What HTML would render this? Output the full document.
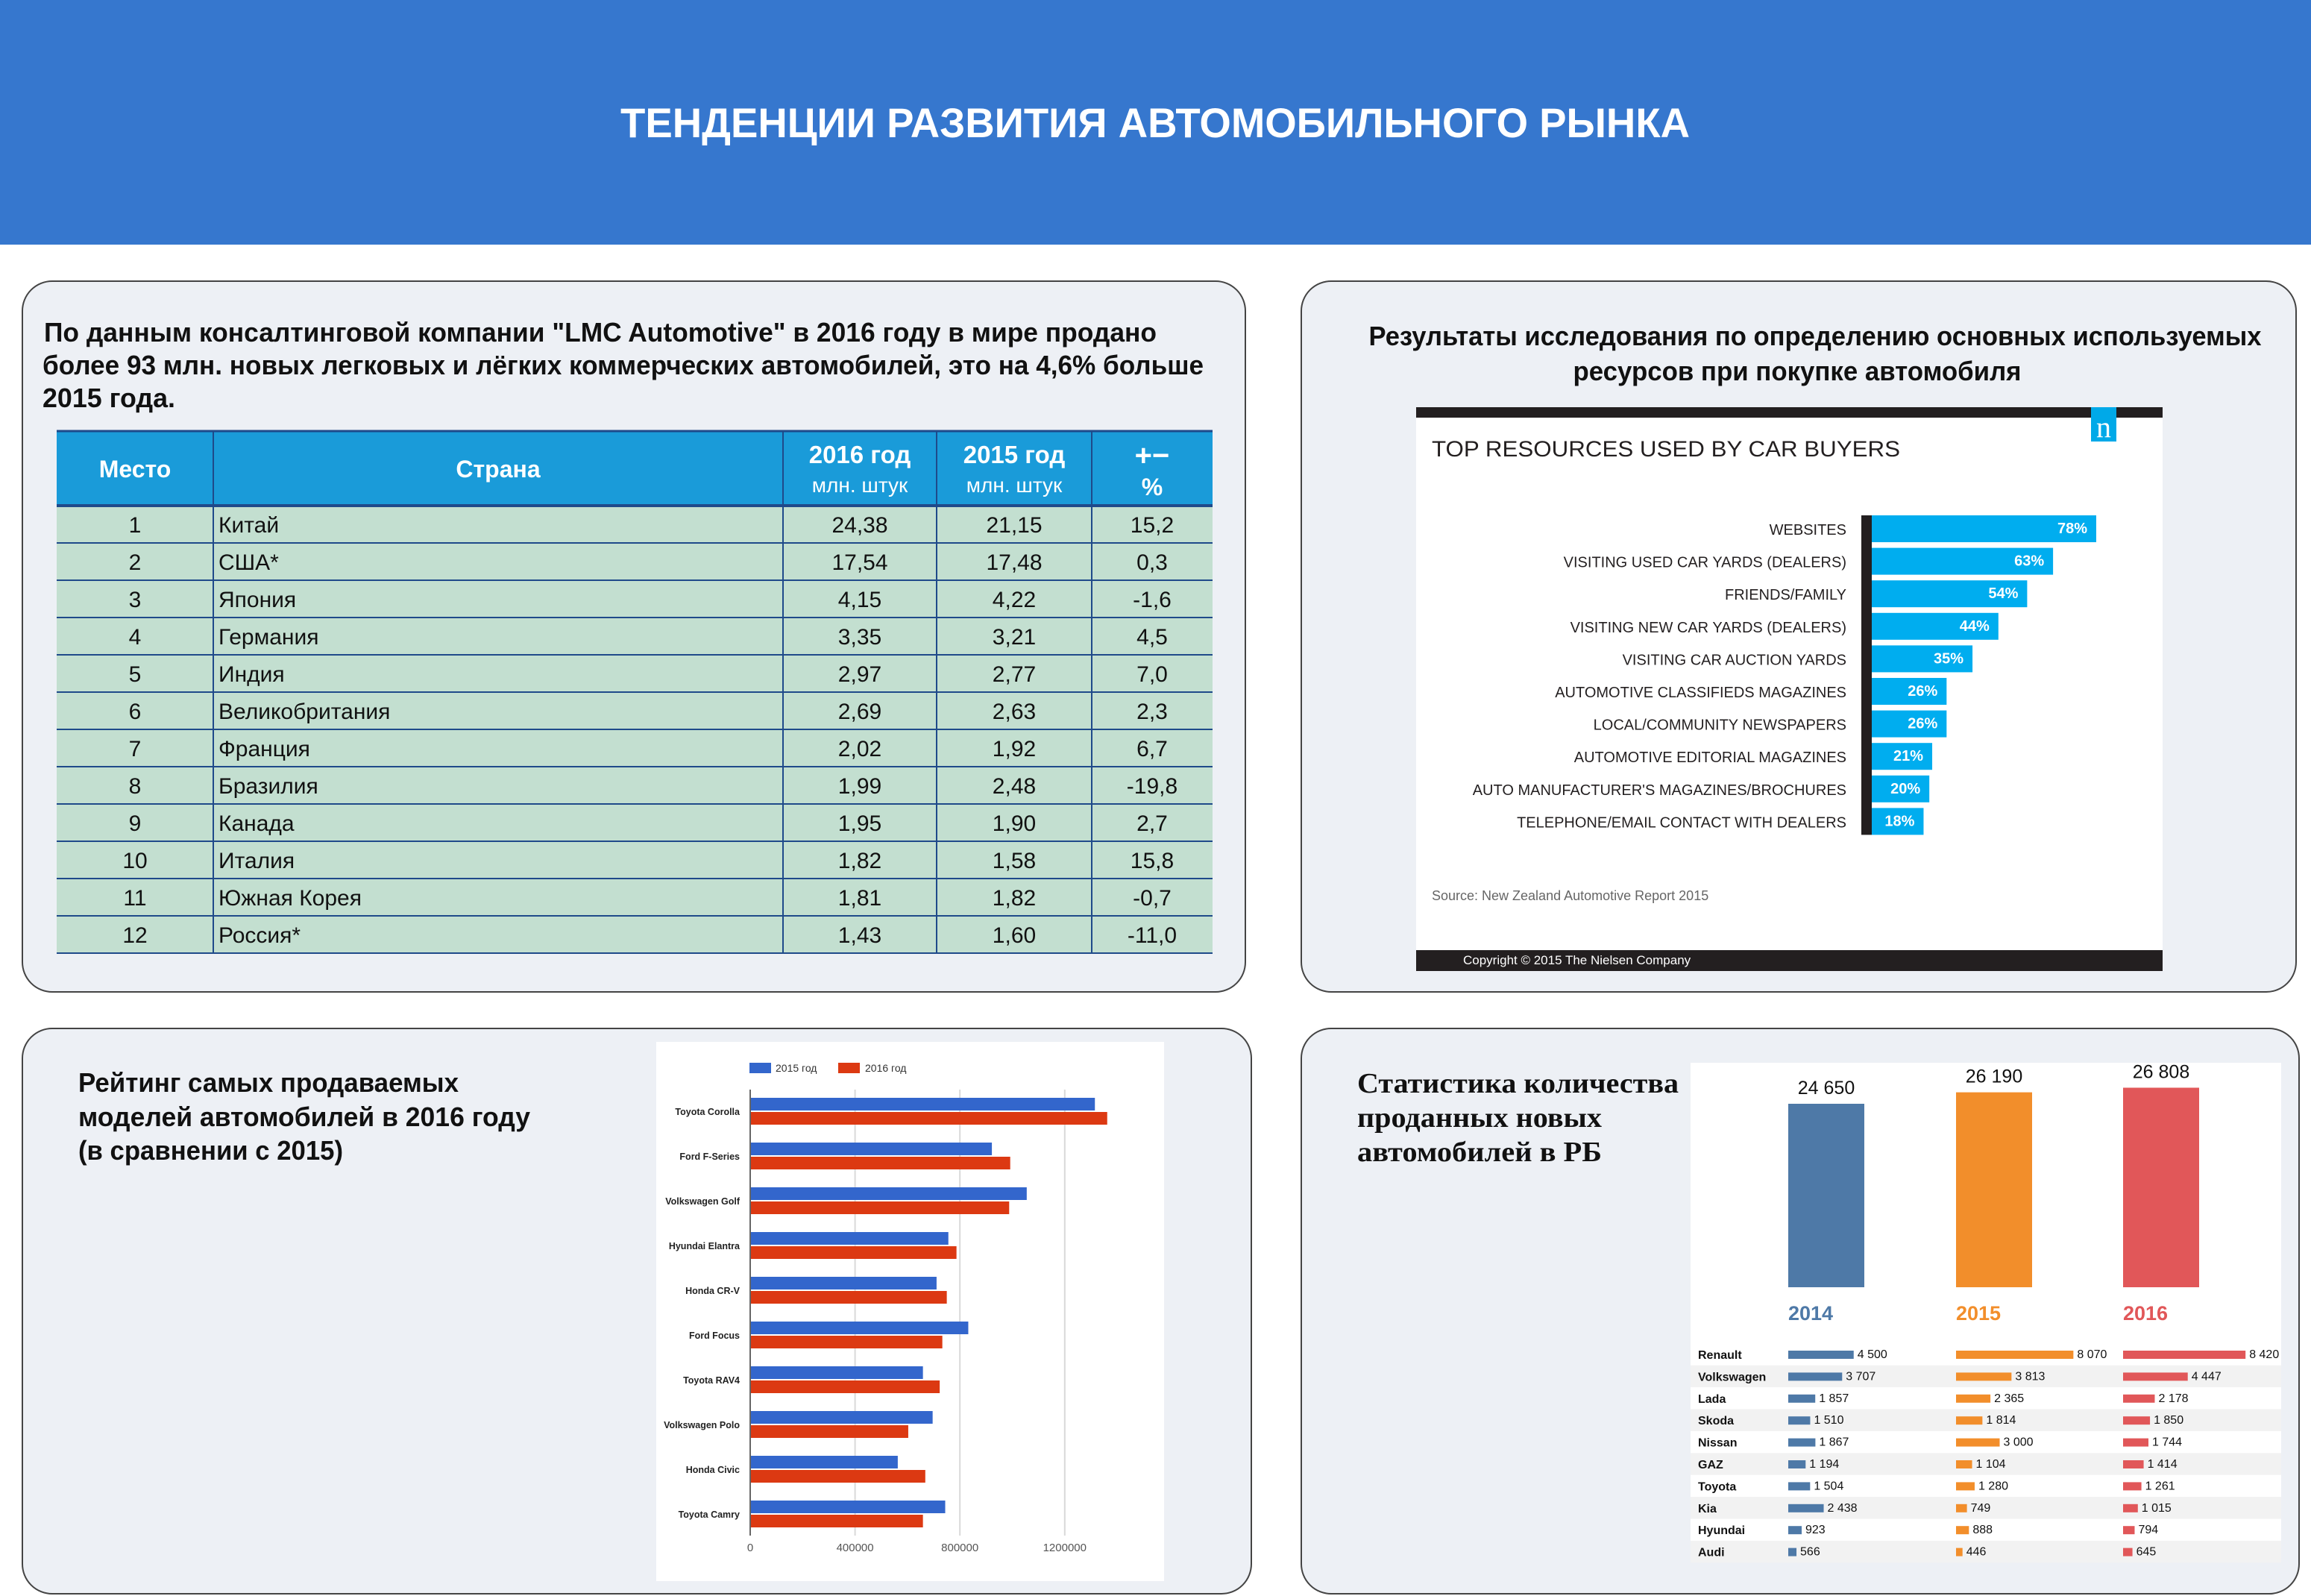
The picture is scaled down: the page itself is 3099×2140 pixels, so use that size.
<!DOCTYPE html>
<html><head><meta charset="utf-8"><style>
html,body{margin:0;padding:0;background:#fff}
svg{display:block}
.nar{font-family:"Liberation Sans Narrow","Liberation Sans",sans-serif}
.san{font-family:"Liberation Sans",sans-serif}
.ser{font-family:"Liberation Serif",serif}
</style></head><body>
<svg id="root" xmlns="http://www.w3.org/2000/svg" width="3099" height="2140" viewBox="0 0 3099 2140">
<rect x="0" y="0" width="3099" height="2140" fill="#ffffff"/>
<rect x="0" y="0" width="3099" height="328" fill="#3677ce"/>
<text x="1549" y="184" text-anchor="middle" class="san" font-weight="bold" font-size="56" fill="#fff" textLength="1434" lengthAdjust="spacingAndGlyphs">ТЕНДЕНЦИИ РАЗВИТИЯ АВТОМОБИЛЬНОГО РЫНКА</text>

<rect x="30" y="377" width="1640" height="953" rx="40" fill="#edf0f5" stroke="#444" stroke-width="2"/>
<rect x="1745" y="377" width="1334" height="953" rx="40" fill="#edf0f5" stroke="#444" stroke-width="2"/>
<rect x="30" y="1379" width="1648" height="758" rx="40" fill="#edf0f5" stroke="#444" stroke-width="2"/>
<rect x="1745" y="1379" width="1338" height="758" rx="40" fill="#edf0f5" stroke="#444" stroke-width="2"/>

<g class="nar" font-weight="bold" font-size="36" fill="#111">
<text x="59" y="458" textLength="1492" lengthAdjust="spacingAndGlyphs">По данным консалтинговой компании "LMC Automotive" в 2016 году в мире продано</text>
<text x="57" y="502" textLength="1557" lengthAdjust="spacingAndGlyphs">более 93 млн. новых легковых и лёгких коммерческих автомобилей, это на 4,6% больше</text>
<text x="57" y="546" textLength="178" lengthAdjust="spacingAndGlyphs">2015 года.</text>
</g>
<g id="table"></g>

<g class="nar" font-weight="bold" font-size="36" fill="#111" text-anchor="middle">
<text x="2434" y="463" textLength="1197" lengthAdjust="spacingAndGlyphs">Результаты исследования по определению основных используемых</text>
<text x="2410" y="510" textLength="601" lengthAdjust="spacingAndGlyphs">ресурсов при покупке автомобиля</text>
</g>
<g id="nielsen">
<rect x="1899" y="546" width="1001" height="756" fill="#fff"/>
<rect x="1899" y="546" width="1001" height="14" fill="#231f20"/>
<rect x="2804" y="546" width="34" height="46" fill="#00a9e8"/>
<text x="2821" y="586" text-anchor="middle" class="ser" font-size="40" fill="#fff">n</text>
<text x="1920" y="612" class="san" font-size="30" fill="#231f20" textLength="628" lengthAdjust="spacingAndGlyphs">TOP RESOURCES USED BY CAR BUYERS</text>
<text x="1920" y="1207" class="nar" font-size="18" fill="#666">Source: New Zealand Automotive Report 2015</text>
<rect x="1899" y="1274" width="1001" height="28" fill="#231f20"/>
<text x="1962" y="1293" class="nar" font-size="17" fill="#fff">Copyright © 2015 The Nielsen Company</text>
</g>

<g class="nar" font-weight="bold" font-size="36" fill="#111">
<text x="105" y="1464" textLength="510" lengthAdjust="spacingAndGlyphs">Рейтинг самых продаваемых</text>
<text x="105" y="1510" textLength="606" lengthAdjust="spacingAndGlyphs">моделей автомобилей в 2016 году</text>
<text x="105" y="1555" textLength="355" lengthAdjust="spacingAndGlyphs">(в сравнении с 2015)</text>
</g>
<rect x="880" y="1397" width="681" height="723" fill="#fff"/>
<g id="models"></g>

<g class="ser" font-weight="bold" font-size="38" fill="#111">
<text x="1820" y="1465" textLength="431" lengthAdjust="spacingAndGlyphs">Статистика количества</text>
<text x="1820" y="1511" textLength="328" lengthAdjust="spacingAndGlyphs">проданных новых</text>
<text x="1820" y="1557" textLength="328" lengthAdjust="spacingAndGlyphs">автомобилей в РБ</text>
</g>
<rect x="2267" y="1425" width="792" height="670" fill="#fff"/>
<g id="belarus"></g>
</svg>
<script>
// ---- table data ----
var places = [1,2,3,4,5,6,7,8,9,10,11,12];
var countries = ["Китай","США*","Япония","Германия","Индия","Великобритания","Франция","Бразилия","Канада","Италия","Южная Корея","Россия*"];
var sales2016 = ["24,38","17,54","4,15","3,35","2,97","2,69","2,02","1,99","1,95","1,82","1,81","1,43"];
var sales2015 = ["21,15","17,48","4,22","3,21","2,77","2,63","1,92","2,48","1,90","1,58","1,82","1,60"];
var changePct = ["15,2","0,3","-1,6","4,5","7,0","2,3","6,7","-19,8","2,7","15,8","-0,7","-11,0"];
// ---- nielsen data ----
var resLabels = ["WEBSITES","VISITING USED CAR YARDS (DEALERS)","FRIENDS/FAMILY","VISITING NEW CAR YARDS (DEALERS)","VISITING CAR AUCTION YARDS","AUTOMOTIVE CLASSIFIEDS MAGAZINES","LOCAL/COMMUNITY NEWSPAPERS","AUTOMOTIVE EDITORIAL MAGAZINES","AUTO MANUFACTURER'S MAGAZINES/BROCHURES","TELEPHONE/EMAIL CONTACT WITH DEALERS"];
var resValues = [78,63,54,44,35,26,26,21,20,18];
// ---- models data ----
var models = ["Toyota Corolla","Ford F-Series","Volkswagen Golf","Hyundai Elantra","Honda CR-V","Ford Focus","Toyota RAV4","Volkswagen Polo","Honda Civic","Toyota Camry"];
var models2015 = [1315000,922000,1055000,756000,711000,832000,659000,696000,563000,744000];
var models2016 = [1362000,992000,988000,787000,750000,733000,723000,603000,668000,659000];
var modelTicks = [0,400000,800000,1200000];
// ---- belarus data ----
var years = ["2014","2015","2016"];
var totals = [24650,26190,26808];
var brands = ["Renault","Volkswagen","Lada","Skoda","Nissan","GAZ","Toyota","Kia","Hyundai","Audi"];
var brand2014 = [4500,3707,1857,1510,1867,1194,1504,2438,923,566];
var brand2015 = [8070,3813,2365,1814,3000,1104,1280,749,888,446];
var brand2016 = [8420,4447,2178,1850,1744,1414,1261,1015,794,645];

var NS="http://www.w3.org/2000/svg";
function mk(tag, attrs, parent, txt){var e=document.createElementNS(NS,tag);for(var k in attrs)e.setAttribute(k,attrs[k]);if(txt!==undefined)e.textContent=txt;parent.appendChild(e);return e;}
function fmt(n){return String(n).replace(/\B(?=(\d{3})+(?!\d))/g," ");}

// ===== table =====
(function(){
var g=document.getElementById('table');
var cols=[76,286,1050,1256,1464,1626];
var top=578, hh=100, rh=50;
var hdr=mk('rect',{x:76,y:top,width:1550,height:hh,fill:'#1a9bd9'},g);


var body=mk('rect',{x:76,y:top+hh,width:1550,height:rh*places.length,fill:'#c3dfd0'},g);


var ht=[["Место",181,640],["Страна",668,640]];
ht.forEach(function(h){var t=mk('text',{x:h[1],y:h[2],'text-anchor':'middle','class':'nar','font-weight':'bold','font-size':32,fill:'#fff'},g,h[0]);

});
[[1153,"2016 год"],[1360,"2015 год"]].forEach(function(h){
var t=mk('text',{x:h[0],y:621,'text-anchor':'middle','class':'nar','font-weight':'bold','font-size':33,fill:'#fff'},g,h[1]);


var u=mk('text',{x:h[0],y:660,'text-anchor':'middle','class':'nar','font-size':28,fill:'#fff'},g,"млн. штук");

});
var p=mk('text',{x:1545,y:624,'text-anchor':'middle','class':'san','font-weight':'bold','font-size':40,fill:'#fff'},g,"+−");


var p2=mk('text',{x:1545,y:664,'text-anchor':'middle','class':'san','font-weight':'bold','font-size':32,fill:'#fff'},g,"%");


for(var i=0;i<places.length;i++){
 var cy=top+hh+rh*i+rh/2+11;
 var cells=[[181,places[i],'middle'],[293,countries[i],'start'],[1153,sales2016[i],'middle'],[1360,sales2015[i],'middle'],[1545,changePct[i],'middle']];
 cells.forEach(function(c){var t=mk('text',{x:c[0],y:cy,'text-anchor':c[2],'class':'san','font-size':30,fill:'#111'},g,c[1]);
 
 });
}
for(var j=0;j<=places.length;j++){mk('line',{x1:76,x2:1626,y1:top+hh+rh*j,y2:top+hh+rh*j,stroke:'#1f4a8a','stroke-width':j==0?4:2},g);}
mk('line',{x1:76,x2:1626,y1:top,y2:top,stroke:'#1f4a8a','stroke-width':3},g);
cols.slice(1,5).forEach(function(x){mk('line',{x1:x,x2:x,y1:top,y2:top+hh+rh*places.length,stroke:'#1f4a8a','stroke-width':2},g);});
})();

// ===== nielsen =====
(function(){
var g=document.getElementById('nielsen');
var x0=2510, sc=(2811-2510)/78, y0=691, step=43.6, bh=36;
function xs(v){return x0+v*sc;}
mk('rect',{x:2496,y:y0,width:14,height:step*(resValues.length-1)+bh,fill:'#231f20'},g);
for(var i=0;i<resValues.length;i++){
 var y=y0+step*i;
 var b=mk('rect',{x:x0,y:y,width:xs(resValues[i])-x0,height:bh,fill:'#00adef'},g);
 
 
 var l=mk('text',{x:2476,y:y+26,'text-anchor':'end','class':'nar','font-size':20,fill:'#231f20'},g,resLabels[i]);
 
 
 var v=mk('text',{x:xs(resValues[i])-12,y:y+24,'text-anchor':'end','class':'nar','font-weight':'bold','font-size':20,fill:'#fff'},g,resValues[i]+'%');
 
 
}
})();

// ===== models =====
(function(){
var g=document.getElementById('models');
var x0=1006, px=140.6/400000, top=1461, bot=2059, y0=1472, step=60, bh=17;
function xs(v){return x0+v*px;}
modelTicks.forEach(function(t){
 if(t>0){var gl=mk('line',{x1:xs(t),x2:xs(t),y1:top,y2:bot,stroke:'#d9d9d9','stroke-width':2},g);
 
 }
 var tl=mk('text',{x:xs(t),y:2080,'text-anchor':'middle','class':'san','font-size':15,fill:'#555'},g,String(t));
 
 
});
for(var i=0;i<models.length;i++){
 var y=y0+step*i;
 var b1=mk('rect',{x:x0,y:y,width:xs(models2015[i])-x0,height:bh,fill:'#3366cc'},g);
 
 
 var b2=mk('rect',{x:x0,y:y+bh+2,width:xs(models2016[i])-x0,height:bh,fill:'#dc3912'},g);
 
 
 var l=mk('text',{x:992,y:y+bh+6,'text-anchor':'end','class':'san','font-weight':'bold','font-size':12.5,fill:'#222'},g,models[i]);
 
 
}
mk('line',{x1:x0,x2:x0,y1:top,y2:bot,stroke:'#666','stroke-width':2},g);
var lg1=mk('rect',{x:1005,y:1425,width:29,height:14,fill:'#3366cc'},g);


mk('text',{x:1040,y:1437,'class':'san','font-size':14,fill:'#333'},g,'2015 год');
var lg2=mk('rect',{x:1124,y:1425,width:29,height:14,fill:'#dc3912'},g);


mk('text',{x:1160,y:1437,'class':'san','font-size':14,fill:'#333'},g,'2016 год');
})();

// ===== belarus =====
(function(){
var g=document.getElementById('belarus');
var colors=['#4e79a7','#f28e2b','#e15759'];
var bx=[2398,2623,2847], base=1726, vs=0.00998, bw=102;
for(var i=0;i<years.length;i++){
 var h=totals[i]*vs;
 var b=mk('rect',{x:bx[i],y:base-h,width:bw,height:h,fill:colors[i]},g);
 
 
 var t=mk('text',{x:bx[i]+bw/2,y:base-h-13,'text-anchor':'middle','class':'nar','font-size':25,fill:'#111'},g,fmt(totals[i]));
 
 
 var yl=mk('text',{x:bx[i],y:1770,'class':'nar','font-weight':'bold','font-size':27,fill:colors[i]},g,years[i]);
 
 
}
var series=[brand2014,brand2015,brand2016], hs=0.0195, r0=1816, rs=29.4;
for(var r=0;r<brands.length;r++){
 var cy=r0+rs*r;
 if(r%2==1){var s=mk('rect',{x:2267,y:cy-rs/2,width:792,height:rs,fill:'#f2f2f2'},g);
 
 }
 var bl=mk('text',{x:2277,y:cy+6,'class':'nar','font-weight':'bold','font-size':16,fill:'#111'},g,brands[r]);
 
 
 for(var k=0;k<3;k++){
  var w=series[k][r]*hs;
  var bb=mk('rect',{x:bx[k],y:cy-5,width:w,height:11,fill:colors[k]},g);
  
  
  var vt=mk('text',{x:bx[k]+w+5,y:cy+5,'class':'nar','font-size':16,fill:'#111'},g,fmt(series[k][r]));
  
  
 }
}
})();
</script>
</body></html>
